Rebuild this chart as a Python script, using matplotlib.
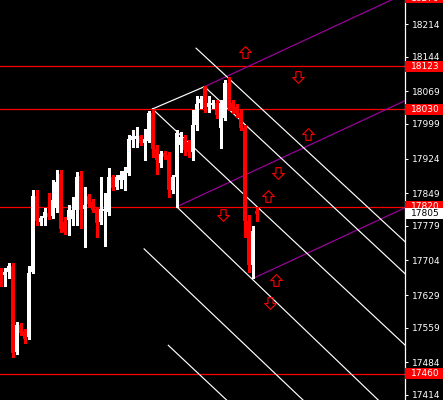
import numpy as np
import matplotlib
matplotlib.use("Agg")
import matplotlib.pyplot as plt
from matplotlib.path import Path
from matplotlib.patches import Rectangle
import matplotlib.transforms as mtransforms

# candles (bar index = position in list)
opens = [17681, 17672, 17679, 17692, 17506, 17565, 17552, 17539, 17679, 17843,
         17787, 17796, 17806, 17800, 17817, 17890, 17787, 17791, 17793, 17813,
         17886, 17815, 17843, 17830, 17815, 17787, 17811, 17808, 17884, 17862,
         17878, 17878, 17893, 17964, 17966, 17972, 17957, 17962, 18022, 17944,
         17914, 17936, 17931, 17856, 17884, 17953, 17968, 17960, 17938, 17996,
         18044, 18078, 18035, 18039, 18044, 17990, 18011, 18087, 18044, 18035,
         18022, 17990, 17789, 17694, 17811]
highs = [17688, 17688, 17698, 17698, 17571, 17569, 17556, 17692, 17856, 17856,
         17800, 17817, 17850, 17878, 17899, 17899, 17798, 17824, 17841, 17895,
         17897, 17862, 17847, 17837, 17819, 17884, 17850, 17904, 17888, 17888,
         17897, 17906, 17975, 17985, 17992, 17975, 17988, 18026, 18031, 17953,
         17940, 17940, 17938, 17888, 17985, 17981, 17975, 17964, 18029, 18059,
         18059, 18080, 18059, 18050, 18050, 18050, 18093, 18100, 18050, 18042,
         18029, 17996, 17802, 17778, 17819]
lows = [17649, 17649, 17666, 17496, 17502, 17543, 17526, 17534, 17677, 17780,
        17780, 17780, 17793, 17796, 17808, 17765, 17761, 17759, 17780, 17780,
        17774, 17733, 17819, 17808, 17755, 17783, 17735, 17802, 17856, 17858,
        17860, 17856, 17888, 17949, 17949, 17953, 17921, 17960, 17927, 17890,
        17906, 17923, 17841, 17849, 17819, 17938, 17931, 17927, 17921, 17985,
        18033, 18024, 18024, 18033, 18011, 17947, 18007, 18029, 18022, 18013,
        17985, 17755, 17680, 17666, 17790]
closes = [17655, 17679, 17692, 17504, 17565, 17547, 17534, 17677, 17843, 17789,
          17796, 17808, 17798, 17834, 17873, 17772, 17765, 17813, 17813, 17884,
          17813, 17824, 17826, 17813, 17785, 17815, 17815, 17884, 17860, 17884,
          17888, 17897, 17966, 17972, 17972, 17957, 17966, 18022, 17944, 17921,
          17934, 17927, 17856, 17884, 17979, 17970, 17942, 17938, 17996, 18042,
          18052, 18033, 18044, 18044, 18018, 18044, 18087, 18033, 18029, 18022,
          17990, 17789, 17694, 17767, 17805]

# right axis
tick_prices = [18214, 18144, 18069, 17999, 17924, 17849, 17779, 17704, 17629, 17559, 17484, 17414]
level_prices = [18270, 18123, 18030, 17820, 17460]
current_price = 17805

# trend lines: (bar1, price1, bar2, price2)
purple_lines = [(51, 18079, 101.2, 18280),
                (44.05, 17820, 101.2, 18049),
                (63.05, 17665, 101.2, 17818)]
white_lines = [(38, 18031, 51, 18079),
               (48.9, 18162, 101.2, 17744),
               (38, 18031, 101.2, 17521),
               (51, 18079, 101.2, 17675),
               (44.05, 17820, 101.2, 17347),
               (35.9, 17729, 101.2, 17193),
               (41.95, 17521, 101.2, 17041)]

# arrow signs
up_bars = [61.1, 76.95, 66.95, 68.9]
up_prices = [18154, 17977, 17844, 17662]
down_bars = [74.45, 69.45, 55.55, 67.4]
down_prices = [18099, 17893, 17802, 17612]

W, H = 443, 400
fig = plt.figure(figsize=(W / 100, H / 100), dpi=100, facecolor="black")
ax = fig.add_axes([0, 0, 405 / W, 1])
ax.set_facecolor("black")
ax.set_xlim(-0.125, 101.125)
ax.set_ylim(17403, 18266)

# horizontal levels
for p in level_prices:
    ax.axhline(p, color="#ff0000", lw=0.9, antialiased=True, snap=True, zorder=1)

for x1, y1, x2, y2 in purple_lines:
    ax.plot([x1, x2], [y1, y2], color="#a000a0", lw=0.85, antialiased=True, zorder=2)
for x1, y1, x2, y2 in white_lines:
    ax.plot([x1, x2], [y1, y2], color="white", lw=0.85, antialiased=True, zorder=2)

# candles
idx = np.arange(len(opens))
o = np.array(opens, float)
c = np.array(closes, float)
bull = c >= o
cols = np.where(bull, "white", "#ff0000")
ax.vlines(idx, lows, highs, colors=cols, lw=0.75, antialiased=False, zorder=3)
bottom = np.minimum(o, c)
height = np.maximum(np.abs(c - o), 2.2)
ax.bar(idx, height, bottom=bottom, width=0.8, color=cols, linewidth=0,
       antialiased=False, zorder=4)

# arrows
up_path = Path([(-0.22, -0.5), (0.22, -0.5), (0.22, 0.0), (0.5, 0.0), (0, 0.5),
                (-0.5, 0.0), (-0.22, 0.0), (-0.22, -0.5)], closed=True)
down_path = Path([(x, -y) for x, y in up_path.vertices], closed=True)
ax.plot(up_bars, up_prices, ls="none", marker=up_path, ms=8.4,
        mfc="none", mec="#ff0000", mew=0.8, zorder=5)
ax.plot(down_bars, down_prices, ls="none", marker=down_path, ms=8.4,
        mfc="none", mec="#ff0000", mew=0.8, zorder=5)

# axis
for s in ["left", "top", "bottom"]:
    ax.spines[s].set_visible(False)
ax.spines["right"].set_color("white")
ax.spines["right"].set_linewidth(0.9)
ax.set_xticks([])
ax.yaxis.tick_right()
ax.set_yticks(tick_prices)
ax.set_yticklabels([str(t) for t in tick_prices])
ax.tick_params(axis="y", colors="white", length=2.2, width=0.75, pad=3, labelsize=6.5)

trans = mtransforms.blended_transform_factory(ax.transAxes, ax.transData)
box_w = 38 / 405
box_h = 10.5 * (18266 - 17403) / 400
for p in level_prices:
    ax.add_patch(Rectangle((1.0, p - box_h / 2), box_w, box_h, transform=trans,
                           facecolor="#ff0000", edgecolor="none", clip_on=False, zorder=6))
    ax.text(1.0 + 6 / 405, p, str(p), transform=trans, color="white", fontsize=6.5,
            va="center", ha="left", clip_on=False, zorder=7)
ax.add_patch(Rectangle((1.0, current_price - box_h / 2), box_w, box_h, transform=trans,
                       facecolor="white", edgecolor="none", clip_on=False, zorder=6))
ax.text(1.0 + 6 / 405, current_price, str(current_price), transform=trans, color="black",
        fontsize=6.5, va="center", ha="left", clip_on=False, zorder=7)

fig.savefig("out.png", dpi=100, facecolor="black")
